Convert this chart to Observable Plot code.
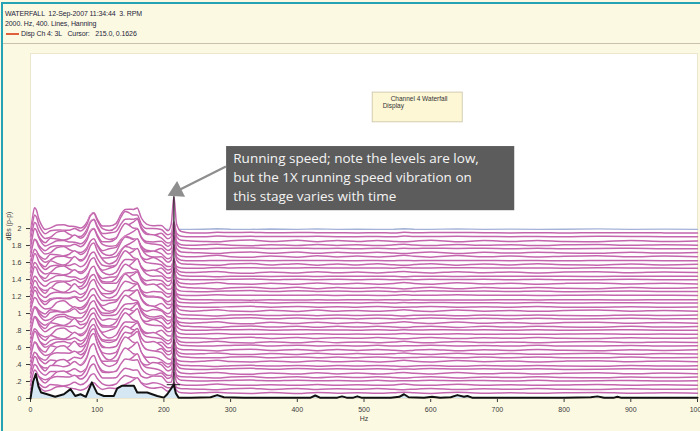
<!DOCTYPE html>
<html><head><meta charset="utf-8">
<script src="https://cdn.jsdelivr.net/npm/d3@7"></script>
<script src="https://cdn.jsdelivr.net/npm/@observablehq/plot@0.6"></script>
<style>
html,body{margin:0;padding:0;background:#fff;}
#page{position:relative;width:700px;height:431px;background:#fcf9e3;overflow:hidden;font-family:"Liberation Sans",Arial,sans-serif;}
#bl{position:absolute;left:1px;top:2px;width:2px;height:431px;background:#25a3b4;}
#bt{position:absolute;left:1px;top:2px;width:700px;height:2px;background:#25a3b4;}
.hd{position:absolute;left:5px;font-size:7px;line-height:8px;color:#1e1e3a;white-space:pre;letter-spacing:-0.1px;}
#sep{position:absolute;left:3px;top:43px;width:697px;height:1px;background:#cbbfae;}
#leg{position:absolute;left:6px;top:33px;width:13px;height:2px;background:#e0603c;}
#chart{position:absolute;left:0;top:44px;}
</style></head>
<body>
<div id="page">
  <div id="bt"></div><div id="bl"></div>
  <div class="hd" style="top:10px">WATERFALL  12-Sep-2007 11:34:44  3. RPM</div>
  <div class="hd" style="top:20px">2000. Hz, 400. Lines, Hanning</div>
  <div id="leg"></div>
  <div class="hd" style="top:30px;left:21px">Disp Ch 4: 3L   Cursor:   215.0, 0.1626</div>
  <div id="sep"></div>
  <div id="chart"></div>
</div>
<script>
// ---- axis ticks
const xTicks = [0,100,200,300,400,500,600,700,800,900,1000];
const yTicks = [0,0.2,0.4,0.6,0.8,1,1.2,1.4,1.6,1.8,2];

// ---- frequency grid (Hz) used by the waterfall traces
const gridHz = [0,3,6,9,12,16,22,30,40,50,58,66,75,84,90,95,100,108,118,128,136,142,148,154,160,166,174,184,196,206,211,215,219,226,240,260,280,300,330,360,400,430,460,490,520,545,560,575,600,640,680,720,760,800,850,900,950,1000];

// ---- spectral feature shapes, [Hz, relative weight]
const shape8Hz   = [[3,0.6],[6,1],[9,0.9],[12,0.6],[16,0.35],[22,0.15],[30,0.05]];
const shape92Hz  = [[75,0.15],[84,0.5],[90,0.9],[95,1],[100,0.7],[108,0.35],[118,0.1]];
const shape140Hz = [[128,0.3],[136,0.8],[142,1],[148,0.75],[154,0.4],[160,0.2],[166,0.05]];
const shape160Hz = [[148,0.3],[154,0.7],[160,1],[166,0.7],[174,0.35],[184,0.1]];
const shape215Hz = [[211,0.25],[215,1],[219,0.25],[226,0.04]];
const shapeLowA  = [[30,0.6],[40,0.2],[58,0.4],[66,1],[75,0.3],[174,0.3],[184,0.8],[196,0.4],[206,0.1]];
const shapeLowB  = [[40,0.8],[50,1],[58,0.5],[118,0.6],[128,0.3],[196,0.6],[206,0.2]];
const shapeHighA = [[260,0.3],[280,1],[300,0.2],[360,0.5],[430,0.7],[490,0.4],[545,0.3],[560,1],[575,0.3],[640,0.8],[680,0.1],[720,0.4],[800,0.3],[850,0.7],[900,0.1],[950,0.4]];
const shapeHighB = [[226,0.2],[240,0.3],[300,0.6],[330,1],[400,0.8],[460,0.6],[520,0.7],[575,0.2],[600,0.8],[680,0.6],[760,0.7],[900,0.6],[1000,0.3]];

// ---- per-trace levels (front -> back) and feature amplitudes
const traceOffset = [0.065,0.11,0.155,0.205,0.25,0.295,0.34,0.385,0.435,0.48,0.525,0.57,0.615,0.66,0.71,0.755,0.8,0.845,0.89,0.935,0.98,1.03,1.075,1.12,1.165,1.21,1.255,1.3,1.35,1.395,1.44,1.485,1.53,1.575,1.62,1.67,1.715,1.76,1.805,1.85,1.9,1.945];
const amp8Hz   = [0.14,0.12,0.18,0.1,0.15,0.2,0.12,0.16,0.1,0.18,0.14,0.22,0.12,0.16,0.1,0.2,0.15,0.12,0.18,0.14,0.1,0.16,0.2,0.12,0.15,0.18,0.1,0.14,0.2,0.12,0.16,0.22,0.14,0.18,0.12,0.2,0.16,0.24,0.18,0.22,0.26,0.3];
const amp92Hz  = [0.12,0.18,0.25,0.3,0.22,0.35,0.28,0.38,0.3,0.34,0.26,0.3,0.22,0.28,0.2,0.25,0.18,0.22,0.26,0.2,0.24,0.18,0.22,0.28,0.2,0.25,0.3,0.22,0.18,0.26,0.2,0.24,0.3,0.22,0.26,0.2,0.28,0.24,0.3,0.26,0.28,0.24];
const amp140Hz = [0.1,0.16,0.2,0.26,0.18,0.3,0.22,0.34,0.26,0.3,0.2,0.28,0.18,0.24,0.3,0.2,0.26,0.16,0.22,0.28,0.2,0.24,0.18,0.26,0.3,0.2,0.22,0.28,0.18,0.24,0.3,0.2,0.26,0.22,0.28,0.24,0.2,0.3,0.22,0.26,0.3,0.28];
const amp160Hz = [0.16,0.1,0.14,0.2,0.24,0.16,0.28,0.2,0.3,0.22,0.26,0.18,0.24,0.2,0.14,0.26,0.18,0.24,0.2,0.16,0.26,0.2,0.24,0.18,0.14,0.24,0.2,0.16,0.26,0.2,0.14,0.24,0.18,0.26,0.2,0.16,0.24,0.18,0.26,0.22,0.2,0.24];
const amp215Hz = [0.12,0.08,0.15,0.2,0.1,0.18,0.25,0.14,0.1,0.2,0.16,0.12,0.22,0.18,0.1,0.15,0.2,0.26,0.14,0.1,0.18,0.22,0.12,0.16,0.2,0.1,0.14,0.24,0.18,0.12,0.2,0.16,0.1,0.22,0.18,0.14,0.2,0.26,0.16,0.22,0.18,0.43];
const ampLowA  = [0.05,0.08,0.12,0.06,0.1,0.14,0.04,0.1,0.12,0.06,0.15,0.08,0.1,0.12,0.05,0.1,0.14,0.08,0.06,0.12,0.1,0.04,0.12,0.08,0.1,0.14,0.06,0.1,0.08,0.12,0.06,0.1,0.14,0.08,0.12,0.06,0.1,0.08,0.12,0.06,0.1,0.08];
const ampLowB  = [0.08,0.04,0.1,0.12,0.06,0.08,0.12,0.05,0.1,0.14,0.06,0.1,0.08,0.04,0.12,0.1,0.06,0.12,0.1,0.08,0.04,0.12,0.1,0.06,0.08,0.04,0.12,0.08,0.1,0.06,0.12,0.08,0.04,0.1,0.06,0.12,0.08,0.1,0.06,0.12,0.08,0.1];
const ampHighA = [0.01,-0.006,0.015,0.005,-0.01,0.012,0.008,-0.008,0.015,0.0,0.01,-0.01,0.005,0.015,-0.006,0.01,0.008,-0.01,0.012,0.005,-0.008,0.015,0.0,0.01,-0.006,0.012,0.008,-0.01,0.015,0.005,-0.006,0.01,0.012,-0.008,0.005,0.015,-0.01,0.008,0.01,-0.006,0.012,0.01];
const ampHighB = [-0.006,0.01,0.0,0.012,0.008,-0.01,0.015,0.005,-0.006,0.012,-0.008,0.01,0.015,-0.006,0.01,0.0,0.012,0.008,-0.01,0.015,0.005,-0.006,0.01,0.012,-0.008,0.005,0.015,0.01,-0.006,0.012,0.0,-0.01,0.008,0.015,0.005,-0.008,0.01,0.012,-0.006,0.015,0.008,0.01];
const backOffset = 1.99;

// ---- front (current) spectrum, drawn in black
const frontHz  = [0,4,8,12,16,25,37,50,60,67,75,83,92,100,110,125,130,137,155,160,175,190,200,205,212,215,218,222,240,270,280,290,320,400,420,427,434,460,467,474,484,490,496,540,553,560,567,590,602,614,630,640,650,655,662,700,800,840,850,860,875,880,885,950,1000];
const frontVal = [0.0,0.2,0.29,0.14,0.07,0.05,0.02,0.05,0.11,0.03,0.05,0.02,0.19,0.06,0.03,0.03,0.12,0.15,0.15,0.07,0.07,0.03,0.01,0.05,0.13,0.16,0.06,0.01,0.01,0.015,0.04,0.015,0.01,0.01,0.01,0.035,0.01,0.01,0.025,0.01,0.01,0.025,0.01,0.01,0.02,0.05,0.015,0.01,0.02,0.01,0.015,0.04,0.02,0.03,0.01,0.01,0.01,0.015,0.025,0.01,0.01,0.02,0.01,0.01,0.01];

// ---- cursor & annotations
const cursorHz = 215.0, cursorVal = 0.1626;
const noteText = "Running speed; note the levels are low,\nbut the 1X running speed vibration on\nthis stage varies with time";
const boxText = ["Channel 4 Waterfall", "Display"];

// ---------- build series
const shapes = [shape8Hz,shape92Hz,shape140Hz,shape160Hz,shape215Hz,shapeLowA,shapeLowB,shapeHighA,shapeHighB].map(s => new Map(s));
const amps = [amp8Hz,amp92Hz,amp140Hz,amp160Hz,amp215Hz,ampLowA,ampLowB,ampHighA,ampHighB];
function trace(i, off) {
  return gridHz.map(hz => {
    let v = off;
    shapes.forEach((m, k) => { const w = m.get(hz); if (w) v += w * ((amps[k][i]) ?? 0); });
    return {hz, v};
  });
}
const traces = traceOffset.map((off, i) => ({pts: trace(i, off), color: "#c466ae"}));
const backPts = gridHz.map(hz => ({hz, v: backOffset + (shapes[7].get(hz) || 0) * 0.008}));
const front = frontHz.map((hz, i) => ({hz, v: frontVal[i]}));
const topSpike = d3.max(traces[traces.length - 1].pts, d => d.v);

const marks = [Plot.frame({fill: "white", stroke: "#ece6cc"})];
marks.push(Plot.areaY(backPts, {x: "hz", y1: 0, y2: "v", fill: "white"}));
marks.push(Plot.line(backPts, {x: "hz", y: "v", stroke: "#a4b2d8", strokeWidth: 1.4}));
for (let i = traces.length - 1; i >= 0; i--) {
  const t = traces[i];
  marks.push(Plot.areaY(t.pts, {x: "hz", y1: 0, y2: "v", fill: "white", curve: "monotone-x"}));
  marks.push(Plot.line(t.pts, {x: "hz", y: "v", stroke: t.color, strokeWidth: 1.5, curve: "monotone-x"}));
}
marks.push(Plot.areaY(front, {x: "hz", y1: 0, y2: "v", fill: "#d5e7f3"}));
marks.push(Plot.ruleX([cursorHz], {y1: cursorVal, y2: topSpike, stroke: "#222", strokeWidth: 1.3}));
marks.push(Plot.ruleY([cursorVal], {x1: cursorHz - 10, x2: cursorHz + 10, stroke: "#222", strokeWidth: 1}));
marks.push(Plot.line(front, {x: "hz", y: "v", stroke: "#111", strokeWidth: 2}));
// annotation box
marks.push(Plot.rect([0], {x1: 294, x2: 726, y1: 2.21, y2: 2.965, fill: "#5c5c5c"}));
marks.push(Plot.text([noteText], {x: 304, y: 2.925, text: d => d, textAnchor: "start", lineAnchor: "top", fill: "#f4f4f4", fontSize: 13.5, lineHeight: 1.4, fontFamily: "Open Sans"}));
marks.push(Plot.link([0], {x1: 293, y1: 2.73, x2: 222, y2: 2.45, stroke: "#8e8e8e", strokeWidth: 2.2}));
marks.push(Plot.dot([0], {x: 219, y: 2.44, symbol: "triangle", r: 6.5, rotate: -117, fill: "#8e8e8e", stroke: "none"}));
// channel box
marks.push(Plot.rect([0], {x1: 513, x2: 648, y1: 3.25, y2: 3.6, fill: "#fdf7d6", stroke: "#c9c1a4", strokeWidth: 0.8}));
marks.push(Plot.text([boxText[0]], {x: 540, y: 3.53, text: d => d, textAnchor: "start", fontSize: 6.5, fill: "#333"}));
marks.push(Plot.text([boxText[1]], {x: 528, y: 3.445, text: d => d, textAnchor: "start", fontSize: 6.5, fill: "#333"}));

const chart = Plot.plot({
  width: 700, height: 387,
  marginTop: 9, marginRight: 3, marginBottom: 33, marginLeft: 30,
  style: {background: "transparent", fontSize: "7px", fontFamily: "Liberation Sans, Arial, sans-serif", color: "#3a3a3a"},
  x: {domain: [0, 1000], ticks: xTicks, tickFormat: d => String(d), tickSize: 4, label: "Hz", labelAnchor: "center", labelArrow: "none", labelOffset: 22},
  y: {domain: [0, 4.06], ticks: yTicks, tickSize: 4, tickFormat: d => d === 0 ? "0" : (d < 1 ? String(d).replace("0.", ".") : String(d)), label: "dBs (p-p)", labelAnchor: "center", labelArrow: "none", labelOffset: 24},
  marks
});
document.getElementById("chart").appendChild(chart);
</script>
</body></html>
